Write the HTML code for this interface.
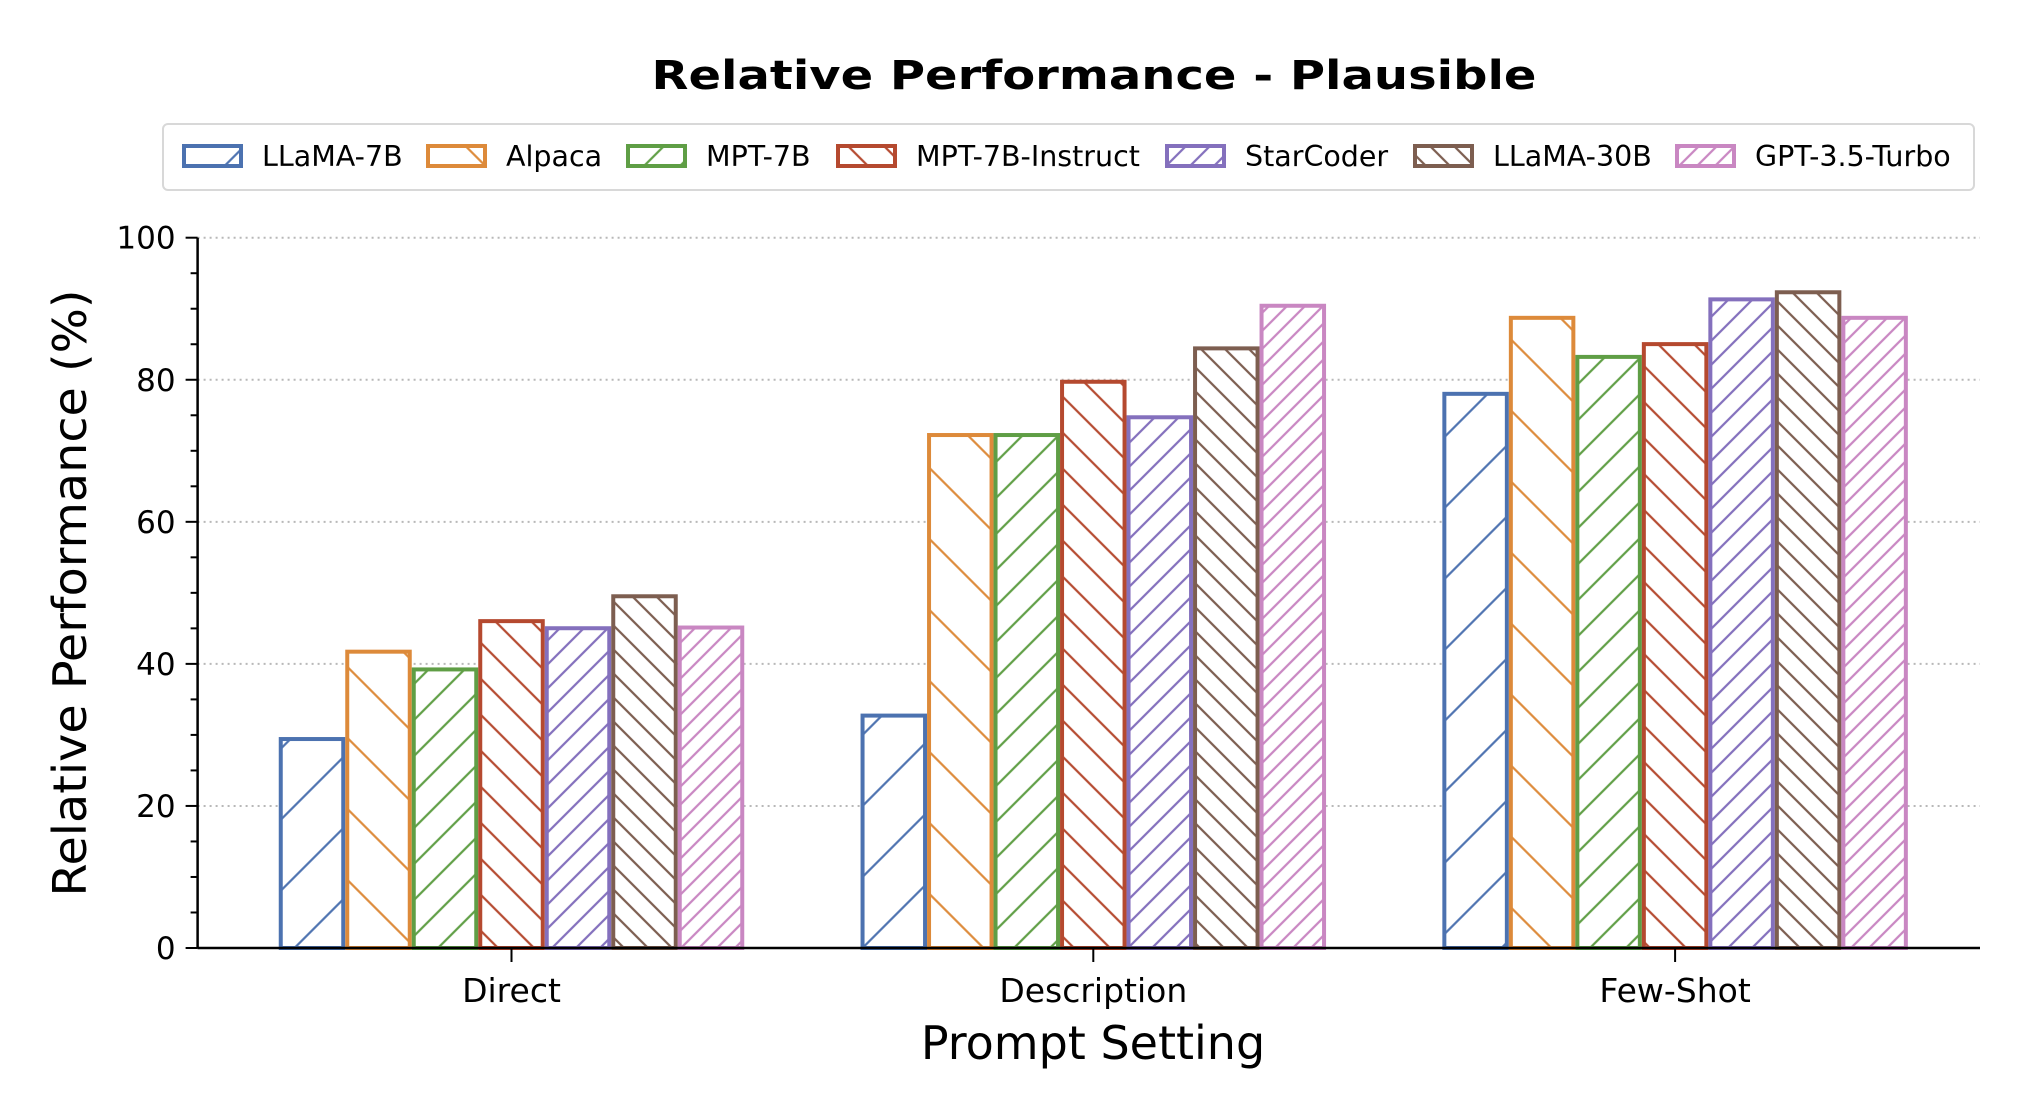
<!DOCTYPE html>
<html><head><meta charset="utf-8"><style>
html,body{margin:0;padding:0;background:#fff;}
svg{display:block;font-family:"DejaVu Sans","Liberation Sans",sans-serif;}
</style></head>
<body>
<svg id="chart" width="2024" height="1104" viewBox="0 0 2024 1104" xmlns="http://www.w3.org/2000/svg">
<defs id="defs"></defs>
<rect width="2024" height="1104" fill="#fff"/>
<text x="1094" y="89" text-anchor="middle" font-size="40" font-weight="bold" textLength="885" lengthAdjust="spacingAndGlyphs">Relative Performance - Plausible</text>
<g id="grid"></g>
<g id="bars"></g>
<g id="axes"></g>
<g id="legend"></g>
<text transform="translate(86,593) rotate(-90)" text-anchor="middle" font-size="46" textLength="607" lengthAdjust="spacingAndGlyphs">Relative Performance (%)</text>
<text x="1093" y="1059" text-anchor="middle" font-size="46">Prompt Setting</text>
</svg>
<script>
const categories = ["Direct", "Description", "Few-Shot"];
const seriesNames = ["LLaMA-7B", "Alpaca", "MPT-7B", "MPT-7B-Instruct", "StarCoder", "LLaMA-30B", "GPT-3.5-Turbo"];
const llama7b = [29.7, 33.0, 78.3];
const alpaca = [42.0, 72.5, 89.0];
const mpt7b = [39.5, 72.5, 83.5];
const mpt7bInstruct = [46.3, 80.0, 85.3];
const starcoder = [45.3, 75.0, 91.6];
const llama30b = [49.8, 84.7, 92.6];
const gpt35 = [45.4, 90.7, 89.0];
const yTicks = [0, 20, 40, 60, 80, 100];

const series = [llama7b, alpaca, mpt7b, mpt7bInstruct, starcoder, llama30b, gpt35];
const colors = ["#4c72b0", "#dd8a3a", "#5f9e45", "#b5492f", "#8470bd", "#7d5e50", "#c987c2"];
const hatchDir = [45, -45, 45, -45, 45, -45, 45];
const hatchPeriod = [71, 71, 36, 36, 24, 24, 18];

const NS = "http://www.w3.org/2000/svg";
const X0 = 197.6, X1 = 1980, Y0 = 948, Y100 = 237.7;
const groupStart = 511.5, groupStep = 581.8, barW = 66.5;
function yScale(v){ return Y0 - (v/100)*(Y0-Y100); }
function xCenter(i){ return groupStart + i*groupStep; }
function mk(tag, attrs, parent){ const e=document.createElementNS(NS,tag); for(const k in attrs) e.setAttribute(k,attrs[k]); parent.appendChild(e); return e; }

const defs = document.getElementById("defs");
colors.forEach((c,i)=>{
  const s = hatchPeriod[i]/Math.SQRT2;
  const p = mk("pattern",{id:"h"+i,patternUnits:"userSpaceOnUse",width:s,height:s,patternTransform:"rotate("+hatchDir[i]+")"},defs);
  mk("rect",{width:s,height:s,fill:"#fff"},p);
  mk("line",{x1:s/2,y1:-1,x2:s/2,y2:s+1,stroke:c,"stroke-width":2.2},p);
});

const grid = document.getElementById("grid");
yTicks.forEach(t=>{
  if(t===0) return;
  const g = mk("line",{x1:X0,x2:X1,y1:yScale(t),y2:yScale(t),stroke:"#b8b8b8","stroke-width":2,"stroke-dasharray":"2,4"},grid);
  
  
});

const bars = document.getElementById("bars");
categories.forEach((cat,ci)=>{
  series.forEach((vals,si)=>{
    const x = xCenter(ci) - 3.5*barW + si*barW;
    const y = yScale(vals[ci]);
    const r = mk("rect",{x:x+2,y:y+2,width:barW-4,height:Y0-y-2,fill:"url(#h"+si+")",stroke:colors[si],"stroke-width":4},bars);
    
    
  });
});

const axes = document.getElementById("axes");
mk("line",{x1:X0,x2:X0,y1:Y100,y2:Y0,stroke:"#000","stroke-width":2.5},axes);
mk("line",{x1:X0,x2:X1,y1:Y0,y2:Y0,stroke:"#000","stroke-width":2.5},axes);
for(let v=0; v<=100; v+=5){
  const major = v%20===0;
  mk("line",{x1:X0-(major?12:7),x2:X0,y1:yScale(v),y2:yScale(v),stroke:"#000","stroke-width":2},axes);
}
yTicks.forEach(t=>{
  const tx = mk("text",{x:X0-22,y:yScale(t)+11,"text-anchor":"end","font-size":31},axes);
  tx.textContent = t;
  
  
});
categories.forEach((cat,ci)=>{
  mk("line",{x1:xCenter(ci),x2:xCenter(ci),y1:Y0,y2:Y0+14,stroke:"#000","stroke-width":2},axes);
  const tx = mk("text",{x:xCenter(ci),y:Y0+54,"text-anchor":"middle","font-size":33},axes);
  tx.textContent = cat;
  
  
});

const legend = document.getElementById("legend");
mk("rect",{x:163,y:124,width:1811,height:66,rx:5,fill:"#fff",stroke:"#d8d8d8","stroke-width":2},legend);
const patchX = [182, 426, 626, 836, 1165, 1413, 1675];
seriesNames.forEach((n,i)=>{
  const g = mk("g",{},legend);
  
  
  mk("rect",{x:patchX[i]+2,y:146,width:57,height:20,fill:"url(#h"+i+")",stroke:colors[i],"stroke-width":4},g);
  const t = mk("text",{x:patchX[i]+80,y:166,"font-size":28.5},g);
  t.textContent = n;
});
</script>
</body></html>
